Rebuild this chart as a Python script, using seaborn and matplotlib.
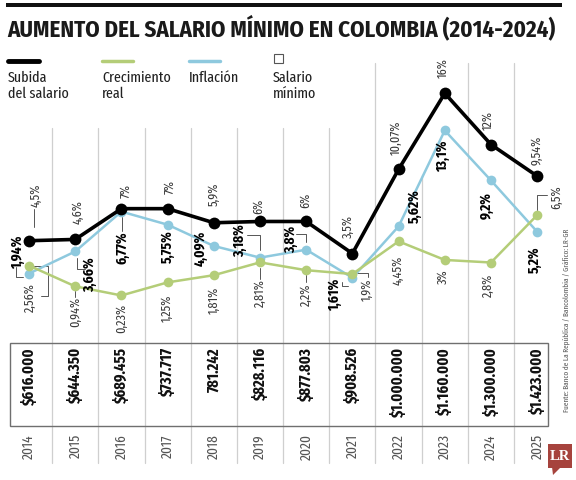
import matplotlib
matplotlib.use("Agg")
import matplotlib.pyplot as plt
import matplotlib.transforms as mtransforms
from matplotlib.patches import Rectangle, Polygon
from matplotlib.lines import Line2D
import seaborn as sns

# Datos
years = [2014, 2015, 2016, 2017, 2018, 2019, 2020, 2021, 2022, 2023, 2024, 2025]
subida = [4.5, 4.6, 7, 7, 5.9, 6, 6, 3.5, 10.07, 16, 12, 9.54]
inflacion = [1.94, 3.66, 6.77, 5.75, 4.09, 3.18, 3.8, 1.61, 5.62, 13.1, 9.2, 5.2]
crecimiento = [2.56, 0.94, 0.23, 1.25, 1.81, 2.81, 2.2, 1.9, 4.45, 3, 2.8, 6.5]
subida_lbl = ["4,5%", "4,6%", "7%", "7%", "5,9%", "6%", "6%", "3,5%", "10,07%", "16%", "12%", "9,54%"]
inflacion_lbl = ["1,94%", "3,66%", "6,77%", "5,75%", "4,09%", "3,18%", "3,8%", "1,61%",
                 "5,62%", "13,1%", "9,2%", "5,2%"]
crecimiento_lbl = ["2,56%", "0,94%", "0,23%", "1,25%", "1,81%", "2,81%", "2,2%", "1,9%",
                   "4,45%", "3%", "2,8%", "6,5%"]
salario = ["$616.000", "$644.350", "$689.455", "$737.717", "781.242", "$828.116", "$877.803",
           "$908.526", "$1.000.000", "$1.160.000", "$1.300.000", "$1.423.000"]

NEGRO = "#000000"
VERDE = "#b4cd78"
AZUL = "#8ec9de"
FONT = ["Fira Sans Extra Condensed", "DejaVu Sans"]

sns.set_theme(style="white")
plt.rcParams["font.family"] = FONT

fig = plt.figure(figsize=(5.76, 4.8), dpi=100)
ax = fig.add_axes([0, 0, 1, 1])
ax.set_xlim(-0.628, 11.84)
ax.set_ylim(-14.165, 23.276)
ax.axis("off")

# pixel coordinates from top-left, and mixed (x data / y pixel)
px = mtransforms.Affine2D().scale(1 / 576, -1 / 480).translate(0, 1) + fig.transFigure
bt = mtransforms.blended_transform_factory(ax.transData, px)

idx = list(range(len(years)))

# gridlines between columns
tops = [128, 128, 128, 128, 128, 128, 128, 63, 175, 63, 63]
for k, top in enumerate(tops):
    ax.plot([k + 0.5, k + 0.5], [top, 463], transform=bt, color="#cfcfcf", lw=0.9, zorder=0)

# series
sns.lineplot(x=idx, y=inflacion, color=AZUL, lw=1.8, marker="o", markersize=7,
             markeredgewidth=0, ax=ax, zorder=3)
sns.lineplot(x=idx, y=crecimiento, color=VERDE, lw=1.8, marker="o", markersize=7,
             markeredgewidth=0, ax=ax, zorder=4)
sns.lineplot(x=idx, y=subida, color=NEGRO, lw=2.6, marker="o", markersize=8.5,
             markeredgewidth=0, ax=ax, zorder=5)

ident = mtransforms.IdentityTransform()


def label(i, v, text, dx, dy, bold=False, leader=None):
    ax.annotate(text, xy=(i, v), xytext=(dx, -dy), textcoords="offset pixels",
                rotation=90, ha="center", va="center",
                fontsize=10.5 if bold else 9.5,
                fontweight="bold" if bold else "normal",
                color="#000000" if bold else "#3a3a3a", zorder=6)
    if leader:
        bx, by = ax.transData.transform((i, v))
        ax.plot([bx + p[0] for p in leader], [by - p[1] for p in leader],
                transform=ident, color="#555555", lw=0.7, zorder=2)


# offsets (dx, dy in pixels from the dot, y downward) and leader shapes
sub_off = [(7, -45, [(5, -32), (5, -14)]), (3, -27, None), (4, -18, None), (2, -22, None),
           (0, -28, None), (-2, -15, None), (-1, -21, None), (-4, -27, None),
           (-2, -31, None), (-2, -25, None), (-3, -24, None), (0, -26, None)]
inf_off = [(-11, -21, [(-13, -7), (-13, 3), (-6, 3)]), (15, 23, [(2, 7), (2, 18), (10, 18)]),
           (1, 36, [(1, 5), (1, 19)]), (0, 22, None), (-13, 2, None),
           (-20, -17, [(-13, -23), (0, -23), (0, -8)]), (-15, -10, [(-10, -16), (0, -16), (0, -8)]),
           (-17, 17, [(-10, 4), (-10, 8), (-4, 8)]), (16, -20, None), (-2, 26, None),
           (-4, 25, None), (-2, 28, None)]
cre_off = [(1, 32, [(5, 0), (19, 0), (19, 30), (12, 30)]), (0, 26, [(0, 5), (0, 11)]),
           (0, 23, None), (0, 26, None), (0, 25, None), (0, 31, [(0, 6), (0, 17)]),
           (0, 25, [(0, 5), (0, 12)]), (15, 16, [(5, -1), (16, -1), (16, 3)]),
           (-1, 29, None), (-2, 17, None), (-3, 23, None), (19, -18, [(0, -5), (0, -20), (10, -20)])]

for i in idx:
    dx, dy, ld = sub_off[i]
    label(i, subida[i], subida_lbl[i], dx, dy, leader=ld)
    dx, dy, ld = inf_off[i]
    label(i, inflacion[i], inflacion_lbl[i], dx, dy, bold=True, leader=ld)
    dx, dy, ld = cre_off[i]
    label(i, crecimiento[i], crecimiento_lbl[i], dx, dy, leader=ld)

# table of minimum wage and years
ax.add_patch(Rectangle((10, 343), 538, 83, transform=px, fill=False,
                       edgecolor="#6f6f6f", lw=1.0, zorder=2))
for i in idx:
    ax.text(i, 347, salario[i], transform=bt, rotation=90, ha="center", va="top",
            fontsize=11.5, fontweight="bold", color="#111111", zorder=6)
    ax.text(i, 434, str(years[i]), transform=bt, rotation=90, ha="center", va="top",
            fontsize=10.5, fontweight="normal", color="#555555", zorder=6)

# header
ax.add_patch(Rectangle((6, 3), 556, 4, transform=px, color="#111111", lw=0))
ax.text(7, 28, "AUMENTO DEL SALARIO MÍNIMO EN COLOMBIA (2014-2024)", transform=px,
        ha="left", va="center", fontsize=16.5, fontweight="bold", color="#1a1a1a",
        family=["Fira Sans Condensed", "DejaVu Sans"])

# legend
leg = [(8, NEGRO, 3.5, "Subida\ndel salario"), (102, VERDE, 2.5, "Crecimiento\nreal"),
       (189, AZUL, 2.5, "Inflación")]
for x0, col, lw, txt in leg:
    ax.add_line(Line2D([x0, x0 + 31], [61, 61], transform=px, color=col, lw=lw))
    ax.text(x0, 71, txt, transform=px, ha="left", va="top", fontsize=11,
            fontweight="normal", color="#222222", linespacing=1.1)
ax.add_patch(Rectangle((274, 54), 9, 9, transform=px, fill=False, edgecolor="#555555", lw=0.8))
ax.text(273, 71, "Salario\nmínimo", transform=px, ha="left", va="top", fontsize=11,
        fontweight="normal", color="#222222", linespacing=1.1)

# source and logo
ax.text(566, 320, "Fuente: Banco de La República / Bancolombia / Gráfico: LR-GR", transform=px,
        rotation=90, ha="center", va="center", fontsize=5.6, color="#555555")
ax.add_patch(Rectangle((548, 444), 24, 24, transform=px, color="#a6433d", lw=0))
ax.add_patch(Polygon([(552, 467), (561, 467), (553, 475)], closed=True, transform=px,
                     color="#a6433d", lw=0))
ax.text(560, 456, "LR", transform=px, ha="center", va="center", fontsize=10.5,
        fontweight="bold", color="white", family=["Liberation Serif", "DejaVu Serif"])

fig.savefig("out.png", dpi=100)
